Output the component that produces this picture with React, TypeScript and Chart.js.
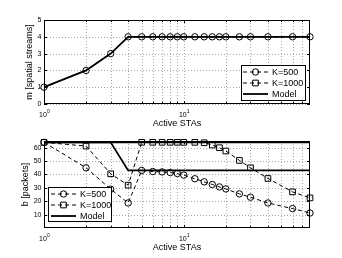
import React, { useEffect, useRef } from "react";
import { Chart, registerables } from "chart.js";
Chart.register(...registerables);

// ---- data ----
const stas = [1, 2, 3, 4, 5, 6, 7, 8, 9, 10, 12, 14, 16, 18, 20, 25, 30, 40, 60, 80];

const mK500 = [1, 2, 3, 4, 4, 4, 4, 4, 4, 4, 4, 4, 4, 4, 4, 4, 4, 4, 4, 4];
const mK1000 = [1, 2, 3, 4, 4, 4, 4, 4, 4, 4, 4, 4, 4, 4, 4, 4, 4, 4, 4, 4];
const mModel = [1, 2, 3, 4, 4, 4, 4, 4, 4, 4, 4, 4, 4, 4, 4, 4, 4, 4, 4, 4];

const bK500 = [64, 45, 29, 18.7, 43, 42.2, 41.9, 41.4, 40.7, 39.5, 36.8, 34.5, 32.5, 30.7, 29.2, 25.5, 23, 18.7, 14.5, 11.2];
const bK1000 = [64, 61.2, 40.5, 32, 64, 64, 64, 64, 64, 64, 64, 63.7, 62, 60, 57.5, 50.5, 45, 37, 27, 22.5];
const bModelK500 = [64, 64, 64, 43, 43, 43, 43, 43, 43, 43, 43, 43, 43, 43, 43, 43, 43, 43, 43, 43];
const bModelK1000 = [64, 64, 64, 64, 64, 64, 64, 64, 64, 64, 64, 64, 64, 64, 64, 64, 64, 64, 64, 64];

const mTicks = [0, 1, 2, 3, 4, 5];
const bTicks = [10, 20, 30, 40, 50, 60];
const xGridValues = [2, 3, 4, 5, 6, 7, 8, 9, 10, 20, 30, 40, 50, 60, 70];
const xMajorTicks = [1, 10];
const legendLabels = ["K=500", "K=1000", "Model"];
const xTitle = "Active STAs";
const mTitle = "m [spatial streams]";
const bTitle = "b [packets]";

const FONT = '"Liberation Sans", Arial, sans-serif';

function pts(ys: number[]) {
  return stas.map((x, i) => ({ x, y: ys[i] }));
}

function seriesStyle(kind: "c" | "s" | "m", showPoints = true) {
  if (kind === "m") {
    return {
      borderColor: "#000",
      borderWidth: 1.8,
      pointRadius: 0,
      pointHoverRadius: 0,
      tension: 0,
      clip: false as any,
    };
  }
  return {
    borderColor: "#000",
    borderWidth: 1,
    borderDash: [4, 3],
    pointStyle: kind === "c" ? "circle" : "rect",
    pointRadius: showPoints ? (kind === "c" ? 3.2 : 4) : 0,
    pointHoverRadius: showPoints ? (kind === "c" ? 3.2 : 4) : 0,
    pointBorderColor: "#000",
    pointBackgroundColor: "rgba(0,0,0,0)",
    pointBorderWidth: 1,
    tension: 0,
    clip: false as any,
  };
}

type Decor = {
  yTicks: number[];
  yTitle: string;
  yTitleX: number;
  legend: { x: number; y: number; w: number; h: number; rows: number[]; l0: number; l1: number; tx: number };
};

function drawMarker(ctx: CanvasRenderingContext2D, kind: string, x: number, y: number) {
  ctx.save();
  ctx.setLineDash([]);
  ctx.lineWidth = 1;
  ctx.strokeStyle = "#000";
  ctx.beginPath();
  if (kind === "c") {
    ctx.arc(x, y, 3.2, 0, Math.PI * 2);
  } else {
    const h = 4 * Math.SQRT1_2;
    ctx.rect(x - h, y - h, 2 * h, 2 * h);
  }
  ctx.stroke();
  ctx.restore();
}

function makeDecor(d: Decor) {
  return {
    id: "decor",
    beforeDatasetsDraw(chart: any) {
      const { ctx, chartArea: a } = chart;
      const xs = chart.scales.x;
      const ys = chart.scales.y;
      ctx.save();
      ctx.strokeStyle = "#a8a8a8";
      ctx.lineWidth = 1;
      ctx.setLineDash([1, 2]);
      for (const v of xGridValues) {
        const px = Math.round(xs.getPixelForValue(v)) + 0.5;
        ctx.beginPath();
        ctx.moveTo(px, a.top);
        ctx.lineTo(px, a.bottom);
        ctx.stroke();
      }
      for (const v of d.yTicks) {
        const py = Math.round(ys.getPixelForValue(v)) + 0.5;
        ctx.beginPath();
        ctx.moveTo(a.left, py);
        ctx.lineTo(a.right, py);
        ctx.stroke();
      }
      ctx.restore();
    },
    afterDraw(chart: any) {
      const { ctx, chartArea: a } = chart;
      const xs = chart.scales.x;
      const ys = chart.scales.y;
      ctx.save();
      ctx.setLineDash([]);
      ctx.strokeStyle = "#000";
      ctx.lineWidth = 1;
      ctx.strokeRect(a.left + 0.5, a.top + 0.5, a.right - a.left - 1, a.bottom - a.top - 1);
      ctx.beginPath();
      for (const v of xGridValues) {
        const px = Math.round(xs.getPixelForValue(v)) + 0.5;
        const len = xMajorTicks.includes(v) ? 3 : 2;
        ctx.moveTo(px, a.bottom);
        ctx.lineTo(px, a.bottom - len);
        ctx.moveTo(px, a.top);
        ctx.lineTo(px, a.top + len);
      }
      for (const v of d.yTicks) {
        const py = Math.round(ys.getPixelForValue(v)) + 0.5;
        ctx.moveTo(a.left, py);
        ctx.lineTo(a.left + 3, py);
        ctx.moveTo(a.right, py);
        ctx.lineTo(a.right - 3, py);
      }
      ctx.stroke();
      ctx.fillStyle = "#000";
      ctx.font = "7px " + FONT;
      ctx.textAlign = "right";
      ctx.textBaseline = "middle";
      for (const v of d.yTicks) {
        ctx.fillText(String(v), a.left - 2.5, ys.getPixelForValue(v));
      }
      xMajorTicks.forEach((v, k) => {
        const px = xs.getPixelForValue(v);
        ctx.font = "7px " + FONT;
        ctx.textAlign = "center";
        ctx.textBaseline = "alphabetic";
        ctx.fillText("10", px - 1, a.bottom + 13);
        ctx.font = "5px " + FONT;
        ctx.textAlign = "left";
        ctx.fillText(String(k), px + 3, a.bottom + 9);
      });
      ctx.font = "9px " + FONT;
      ctx.textAlign = "center";
      ctx.textBaseline = "middle";
      ctx.fillText(xTitle, (a.left + a.right) / 2, a.bottom + 20);
      ctx.save();
      ctx.translate(d.yTitleX, (a.top + a.bottom) / 2);
      ctx.rotate(-Math.PI / 2);
      ctx.fillText(d.yTitle, 0, 0);
      ctx.restore();
      const L = d.legend;
      ctx.fillStyle = "#fff";
      ctx.fillRect(L.x, L.y, L.w, L.h);
      ctx.strokeStyle = "#000";
      ctx.lineWidth = 1;
      ctx.strokeRect(L.x + 0.5, L.y + 0.5, L.w - 1, L.h - 1);
      const kinds = ["c", "s", "m"];
      legendLabels.forEach((lab, i) => {
        const yy = L.y + L.rows[i];
        ctx.save();
        ctx.strokeStyle = "#000";
        if (kinds[i] === "m") {
          ctx.lineWidth = 1.8;
          ctx.setLineDash([]);
        } else {
          ctx.lineWidth = 1;
          ctx.setLineDash([4, 3]);
        }
        ctx.beginPath();
        ctx.moveTo(L.l0, yy);
        ctx.lineTo(L.l1, yy);
        ctx.stroke();
        ctx.restore();
        if (kinds[i] !== "m") drawMarker(ctx, kinds[i], (L.l0 + L.l1) / 2, yy);
        ctx.fillStyle = "#000";
        ctx.font = "9px " + FONT;
        ctx.textAlign = "left";
        ctx.textBaseline = "middle";
        ctx.fillText(lab, L.tx, yy + 0.5);
      });
      ctx.restore();
    },
  };
}

function ChartCanvas({ config, top }: { config: any; top: number }) {
  const ref = useRef<HTMLCanvasElement>(null);
  useEffect(() => {
    const c = new Chart(ref.current as HTMLCanvasElement, config);
    return () => c.destroy();
  }, []);
  return (
    <canvas
      ref={ref}
      width={342}
      height={129}
      style={{ position: "absolute", left: 0, top, width: 342, height: 129, display: "block" }}
    />
  );
}

function baseOptions(ymin: number, ymax: number, padding: any) {
  return {
    responsive: false,
    animation: false,
    devicePixelRatio: 1,
    layout: { padding },
    plugins: { legend: { display: false }, tooltip: { enabled: false } },
    events: [],
    scales: {
      x: { type: "logarithmic", min: 1, max: 80, display: false },
      y: { type: "linear", min: ymin, max: ymax, display: false },
    },
  };
}

export default function App() {
  const topConfig = {
    type: "line",
    data: {
      datasets: [
        { label: legendLabels[0], data: pts(mK500), ...seriesStyle("c") },
        { label: legendLabels[2], data: pts(mModel), ...seriesStyle("m") },
        { label: legendLabels[1], data: pts(mK1000), ...seriesStyle("s", false) },
      ],
    },
    options: baseOptions(0, 5, { left: 44, right: 32, top: 20, bottom: 25 }),
    plugins: [
      makeDecor({
        yTicks: mTicks,
        yTitle: mTitle,
        yTitleX: 30,
        legend: { x: 241, y: 65, w: 65, h: 36, rows: [7, 18, 29], l0: 243, l1: 268, tx: 272 },
      }),
    ],
  };
  const bottomConfig = {
    type: "line",
    data: {
      datasets: [
        { label: legendLabels[0], data: pts(bK500), ...seriesStyle("c") },
        { label: legendLabels[1], data: pts(bK1000), ...seriesStyle("s") },
        { label: legendLabels[2], data: pts(bModelK500), ...seriesStyle("m") },
        { label: legendLabels[2], data: pts(bModelK1000), ...seriesStyle("m") },
      ],
    },
    options: baseOptions(0, 65, { left: 44, right: 32, top: 12, bottom: 30 }),
    plugins: [
      makeDecor({
        yTicks: bTicks,
        yTitle: bTitle,
        yTitleX: 26,
        legend: { x: 48, y: 58, w: 64, h: 35, rows: [7, 18, 29], l0: 51, l1: 76, tx: 80 },
      }),
    ],
  };
  return (
    <div style={{ position: "absolute", left: 0, top: 0, width: 342, height: 258, background: "#fff" }}>
      <ChartCanvas config={topConfig} top={0} />
      <ChartCanvas config={bottomConfig} top={129} />
    </div>
  );
}
